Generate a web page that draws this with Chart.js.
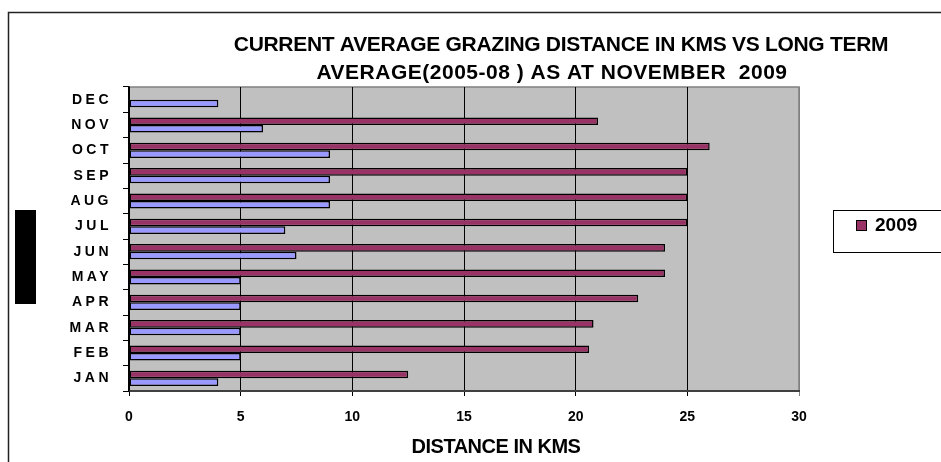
<!DOCTYPE html>
<html>
<head>
<meta charset="utf-8">
<script src="https://cdn.jsdelivr.net/npm/chart.js@4.4.1/dist/chart.umd.min.js"></script>
<style>
  html, body { margin: 0; padding: 0; background: #fff; }
  #wrap { position: relative; width: 941px; height: 462px; }
</style>
</head>
<body>
<div id="wrap"><canvas id="grazingChart"></canvas></div>
<script>
const months = ['JAN', 'FEB', 'MAR', 'APR', 'MAY', 'JUN', 'JUL', 'AUG', 'SEP', 'OCT', 'NOV', 'DEC'];
const current2009 = [12.5, 20.6, 20.8, 22.8, 24, 24, 25, 25, 25, 26, 21, null];
const longTermAvg = [4, 5, 5, 5, 5, 7.5, 7, 9, 9, 9, 6, 4];
const xTicks = [0, 5, 10, 15, 20, 25, 30];

const titleLines = [
    'CURRENT AVERAGE GRAZING DISTANCE IN KMS VS LONG TERM',
    'AVERAGE(2005-08 ) AS AT NOVEMBER  2009'
];
const xTitle = 'DISTANCE IN KMS';

const PLUM = '#993366';
const LAVENDER = '#9999FF';
const FONT = '"Liberation Sans", Arial, sans-serif';

// background, frame, titles and the small legend box
const excelLook = {
    id: 'excelLook',
    beforeDraw(chart) {
        const { ctx, chartArea: a } = chart;
        ctx.save();
        ctx.fillStyle = '#c0c0c0';
        ctx.fillRect(a.left, a.top, a.right - a.left, a.bottom - a.top);
        ctx.strokeStyle = '#808080';
        ctx.lineWidth = 1.5;
        ctx.beginPath();
        ctx.moveTo(a.left, a.top);
        ctx.lineTo(a.right, a.top);
        ctx.lineTo(a.right, a.bottom);
        ctx.stroke();
        ctx.restore();
    },
    afterDatasetsDraw(chart) {
        // y labels are drawn after this (z: 1), spaced out like the original
        chart.ctx.letterSpacing = '3.5px';
    },
    afterDraw(chart) {
        const ctx = chart.ctx;
        ctx.letterSpacing = '0px';
        ctx.save();
        // outer frame
        ctx.strokeStyle = '#222';
        ctx.lineWidth = 1.5;
        ctx.strokeRect(8.5, 12.5, 1000, 1000);
        // black block on the left
        ctx.fillStyle = '#000';
        ctx.fillRect(15, 210, 21, 94);

        ctx.fillStyle = '#000';
        ctx.textAlign = 'center';
        ctx.textBaseline = 'middle';
        ctx.font = 'bold 21px ' + FONT;
        ctx.letterSpacing = '-0.3px';
        ctx.fillText(titleLines[0], 561, 45);
        ctx.letterSpacing = '0.5px';
        ctx.fillText(titleLines[1], 552, 73);

        ctx.letterSpacing = '-0.5px';
        ctx.font = 'bold 20px ' + FONT;
        ctx.fillText(xTitle, 496, 447);
        ctx.letterSpacing = '0px';

        // legend
        ctx.strokeStyle = '#000';
        ctx.lineWidth = 1;
        ctx.strokeRect(833.5, 210.5, 200, 42);
        const ds = chart.data.datasets[0];
        ctx.fillStyle = ds.backgroundColor;
        ctx.fillRect(856, 220, 11, 11);
        ctx.strokeRect(856.5, 220.5, 10, 10);
        ctx.fillStyle = '#000';
        ctx.textAlign = 'left';
        ctx.font = 'bold 19px ' + FONT;
        ctx.fillText(ds.label, 875, 226);
        ctx.restore();
    }
};

const ctx = document.getElementById('grazingChart').getContext('2d');
new Chart(ctx, {
    type: 'bar',
    data: {
        labels: months,
        datasets: [
            {
                label: '2009',
                data: current2009,
                backgroundColor: PLUM,
                borderColor: '#000',
                borderWidth: 1.5,
                borderSkipped: false
            },
            {
                label: 'LONG TERM AVERAGE',
                data: longTermAvg,
                backgroundColor: LAVENDER,
                borderColor: '#000',
                borderWidth: 1.5,
                borderSkipped: false
            }
        ]
    },
    options: {
        indexAxis: 'y',
        responsive: true,
        maintainAspectRatio: false,
        animation: false,
        categoryPercentage: 0.6,
        barPercentage: 1.0,
        layout: { padding: { left: 0, top: 87, right: 142, bottom: 0 } },
        scales: {
            x: {
                min: 0,
                max: 30,
                afterBuildTicks: scale => {
                    scale.ticks = xTicks.map(v => ({ value: v }));
                },
                afterFit: scale => { scale.height = 71; },
                ticks: {
                    color: '#000',
                    padding: 13,
                    font: { family: FONT, size: 14, weight: 'bold' }
                },
                grid: {
                    color: c => (c.tick && c.tick.value === 30 ? '#808080' : '#000'),
                    lineWidth: 1,
                    tickLength: 5
                },
                border: { color: '#404040', width: 2 }
            },
            y: {
                reverse: true,
                afterFit: scale => { scale.width = 129; },
                ticks: {
                    z: 1,
                    color: '#000',
                    padding: 11,
                    font: { family: FONT, size: 14, weight: 'bold' }
                },
                grid: {
                    drawOnChartArea: false,
                    color: '#000',
                    tickLength: 6,
                    offset: true
                },
                border: { color: '#000', width: 1.5 }
            }
        },
        plugins: {
            legend: { display: false },
            title: { display: false },
            tooltip: { enabled: false }
        }
    },
    plugins: [excelLook]
});
</script>
</body>
</html>
